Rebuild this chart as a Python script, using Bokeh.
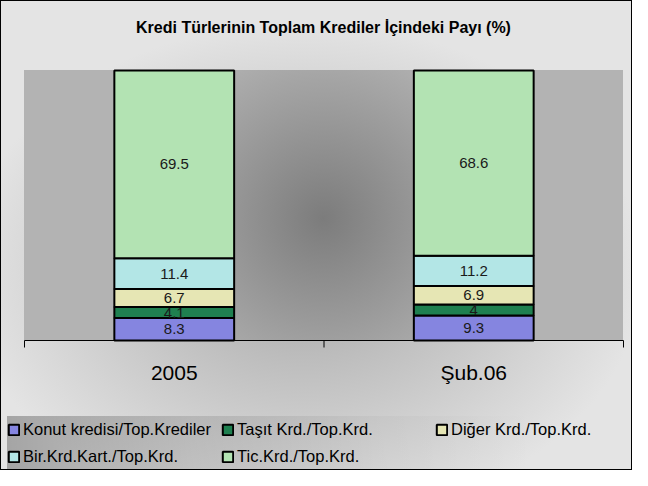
import numpy as np
from bokeh.plotting import figure
from bokeh.models import (ColumnDataSource, Range1d, Legend, LegendItem, Label)
from bokeh.core.properties import value
from bokeh.embed import file_html
from bokeh.resources import INLINE

# ---- data ----
categories = ["2005", "Şub.06"]
series_names = ["Konut kredisi/Top.Krediler", "Taşıt Krd./Top.Krd.",
                "Diğer Krd./Top.Krd.", "Bir.Krd.Kart./Top.Krd.", "Tic.Krd./Top.Krd."]
konut = [8.3, 9.3]
tasit = [4.1, 4.0]
diger = [6.7, 6.9]
kart = [11.4, 11.2]
tic = [69.5, 68.6]
colors = ["#8585e0", "#1f8050", "#e6e6b4", "#b3e6e6", "#b3e3b3"]
title_text = "Kredi Türlerinin Toplam Krediler İçindeki Payı (%)"

FONT = "Liberation Sans"
keys = ["konut", "tasit", "diger", "kart", "tic"]
series = [konut, tasit, diger, kart, tic]

# ---- layout (pixels) ----
W, H = 632, 470
PL, PR, PT, PB = 23, 622, 69, 339          # plot-area box inside the canvas
YMAX = 100.0
n = len(categories)
xpx = (PR - PL) / n                           # px per category unit
ypx = (PB - PT) / YMAX                        # px per percent

x_range = Range1d(-PL / xpx, n + (W - PR) / xpx)
y_range = Range1d(-(H - PB) / ypx, YMAX + PT / ypx)

xpos = np.arange(n) + 0.5
bounds = np.arange(n + 1)
data = {"x": xpos}
for k, s in zip(keys, series):
    data[k] = s
src = ColumnDataSource(data)

p = figure(width=W, height=H, output_backend="svg", toolbar_location=None,
           x_range=x_range, y_range=y_range,
           x_axis_type=None, y_axis_type=None, min_border=0)
p.background_fill_alpha = 0
p.border_fill_alpha = 0
p.outline_line_color = None
p.xgrid.visible = False
p.ygrid.visible = False
p.styles = {
    "border": "1px solid #000000",
    "background": (
        f"radial-gradient(circle 190px at 50% 55%, #7c7c7c 0%, #b3b3b3 100%) "
        f"{PL}px {PT}px / {PR - PL}px {PB - PT}px no-repeat, "
        "linear-gradient(to right, rgba(0,0,0,0.28) 0%, rgba(0,0,0,0.12) 30%, "
        "rgba(0,0,0,0.03) 60%, rgba(0,0,0,0) 85%) 6px 415px / 622px 54px no-repeat, "
        "radial-gradient(ellipse 340px 250px at 48% 58%, #a8a8a8 0%, #e4e4e4 100%)"
    ),
}

# title
p.add_layout(Label(x=322, y=H - 26, x_units="screen", y_units="screen",
                   text=title_text, text_align="center", text_baseline="middle",
                   text_font=FONT, text_font_size="16px", text_font_style="bold",
                   text_color="#000000"))

# bars
rends = p.vbar_stack(keys, x="x", width=0.4, source=src, fill_color=colors,
                     line_color="black", line_width=2)

# value labels
arr = np.array(series, dtype=float)
tops = np.cumsum(arr, axis=0)
mids = tops - arr / 2
lx, ly, lt = [], [], []
for i in range(arr.shape[0]):
    for j in range(arr.shape[1]):
        lx.append(xpos[j]); ly.append(mids[i, j]); lt.append(f"{arr[i, j]:g}")
lsrc = ColumnDataSource(dict(x=lx, y=ly, t=lt))
p.text(x="x", y="y", text="t", source=lsrc, text_align="center",
       text_baseline="middle", text_font=value(FONT), text_font_size="15px",
       text_color="#1a1a1a")

# category axis: line, boundary ticks, labels
p.line(x=bounds, y=np.zeros(n + 1), line_color="#000000", line_width=1)
p.ray(x=bounds, y=np.zeros(n + 1), length=7, length_units="screen",
      angle=-np.pi / 2, line_color="#000000", line_width=1)
p.text(x=xpos, y=np.zeros(n), text=categories, y_offset=32,
       text_align="center", text_baseline="middle", text_font=value(FONT),
       text_font_size="21px", text_color="#000000")

# legend
items = [LegendItem(label=nm, renderers=[r]) for nm, r in zip(series_names, rends)]
legend = Legend(items=items, orientation="horizontal", ncols=3, nrows=2,
                location=(6, 5))
legend.label_text_font = FONT
legend.label_text_font_size = "16.5px"
legend.label_text_color = "#000000"
legend.glyph_width = 13
legend.glyph_height = 13
legend.label_standoff = 3
legend.label_width = 190
legend.label_height = 18
legend.spacing = 8
legend.background_fill_alpha = 0
legend.border_line_color = None
legend.padding = 6
legend.margin = 0
p.add_layout(legend, "center")

open("out.html", "w").write(file_html(p, INLINE))
